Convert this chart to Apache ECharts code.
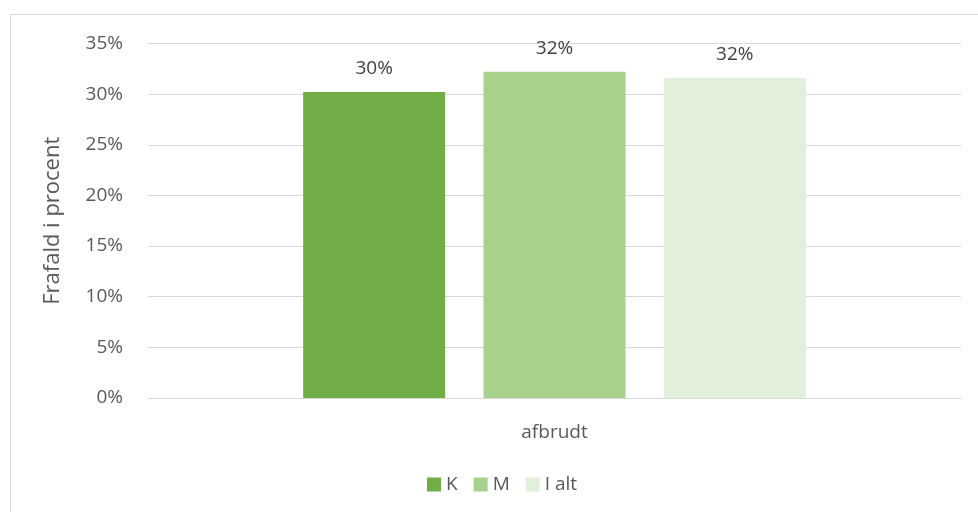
<!DOCTYPE html>
<html>
<head>
<meta charset="utf-8">
<script src="https://cdn.jsdelivr.net/npm/echarts@6/dist/echarts.min.js"></script>
<style>
html,body{margin:0;padding:0;background:#fff;}
#c{width:978px;height:512px;}
</style>
</head>
<body>
<div id="c"></div>
<script>
const categories = ['afbrudt'];
const seriesNames = ['K', 'M', 'I alt'];
const valuesK = [30.2];
const valuesM = [32.2];
const valuesIalt = [31.6];
const seriesColors = ['#70AD47', '#A9D18E', '#E2EFDA'];
const yTicks = [0, 5, 10, 15, 20, 25, 30, 35];

const FONT = 'Open Sans';
const chart = echarts.init(document.getElementById('c'));
const allValues = [valuesK, valuesM, valuesIalt];
chart.setOption({
  backgroundColor: '#fff',
  animation: false,
  textStyle: { fontFamily: FONT },
  graphic: [{
    type: 'rect',
    shape: { x: 10.5, y: 14.5, width: 1000, height: 600 },
    style: { fill: 'none', stroke: '#D9D9D9', lineWidth: 1 },
    silent: true, z: -10
  }],
  grid: { left: 148, right: 17, top: 43.5, bottom: 114 },
  legend: {
    data: seriesNames,
    left: 422, top: 470,
    itemWidth: 14, itemHeight: 14, itemGap: 16,
    icon: 'rect',
    textStyle: { color: '#595959', fontSize: 19, fontFamily: FONT }
  },
  xAxis: {
    type: 'category',
    data: categories,
    axisLine: { lineStyle: { color: '#D9D9D9', width: 1 } },
    axisTick: { show: false },
    axisLabel: { color: '#595959', fontSize: 19, margin: 25, fontFamily: FONT }
  },
  yAxis: {
    type: 'value',
    min: yTicks[0], max: yTicks[yTicks.length - 1], interval: 5,
    name: 'Frafald i procent',
    nameLocation: 'middle', nameGap: 84, nameRotate: 90,
    nameTextStyle: { color: '#595959', fontSize: 22, fontFamily: FONT },
    axisLine: { show: false },
    axisTick: { show: false },
    splitLine: { lineStyle: { color: '#D9D9D9', width: 1 } },
    axisLabel: { color: '#595959', fontSize: 19, margin: 25, fontFamily: FONT, formatter: v => v + '%' }
  },
  series: seriesNames.map((n, i) => ({
    name: n,
    type: 'bar',
    data: allValues[i],
    barWidth: 142,
    barGap: '27%',
    itemStyle: { color: seriesColors[i] },
    label: {
      show: true, position: 'top', distance: 14,
      color: '#404040', fontSize: 19, fontFamily: FONT,
      formatter: p => Math.round(p.value) + '%'
    }
  }))
});
</script>
</body>
</html>
